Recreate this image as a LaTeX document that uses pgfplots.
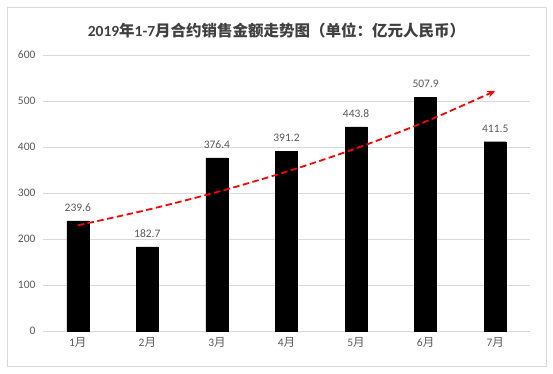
\documentclass[border=0pt]{standalone}
\usepackage{pgfplots}
\pgfplotsset{compat=1.18}
\usepackage{fontspec}
\setmainfont{Carlito}
\newfontfamily\cjk{Noto Sans CJK SC}
\usetikzlibrary{arrows.meta}
\definecolor{gridc}{HTML}{D9D9D9}
\definecolor{txt}{HTML}{595959}
\definecolor{lab}{HTML}{404040}
\begin{document}
\begin{tikzpicture}
\useasboundingbox (-43pt,-43pt) rectangle (510pt,331pt);
\draw[draw=gridc, line width=0.8pt] (-36pt,-35pt) rectangle (503pt,324pt);
\begin{axis}[
  at={(0,0)}, anchor=south west,
  scale only axis, width=487pt, height=276pt,
  xmin=-0.5, xmax=6.5, ymin=0, ymax=600,
  ytick={0,100,...,600},
  xtick={0,...,6},
  xticklabels={1{\cjk 月},2{\cjk 月},3{\cjk 月},4{\cjk 月},5{\cjk 月},6{\cjk 月},7{\cjk 月}},
  ymajorgrids, grid style={draw=gridc, line width=0.8pt},
  axis line style={draw=none},
  major tick length=0pt,
  tick label style={font=\fontsize{11.5}{13}\selectfont, text=txt},
  /pgf/number format/assume math mode=true,
  yticklabel style={xshift=-4pt},
  xticklabel style={yshift=-3pt},
  clip=false,
]
\addplot[ybar, bar width=22pt, fill=black, draw=black,
  nodes near coords, nodes near coords style={font=\fontsize{11.5}{13}\selectfont, text=txt, yshift=6pt, /pgf/number format/.cd, fixed, fixed zerofill, precision=1, assume math mode=true}]
coordinates {(0,239.6) (1,182.7) (2,376.4) (3,391.2) (4,443.8) (5,507.9) (6,411.5)};
\addplot[red, line width=1.8pt, dash pattern=on 6.5pt off 3.5pt, smooth, -{Stealth[length=8pt,width=7pt]}]
coordinates {(0,229.7) (1,263.4) (2,302.0) (3,346.3) (4,397.0) (5,455.2) (6,521.9)};
\end{axis}
\node[text=lab, font=\fontsize{15.5}{18}\selectfont] at (233.5pt,300pt) {\bfseries 2019{\cjk 年}1-7{\cjk 月合约销售金额走势图（单位：亿元人民币）}};
\end{tikzpicture}
\end{document}
